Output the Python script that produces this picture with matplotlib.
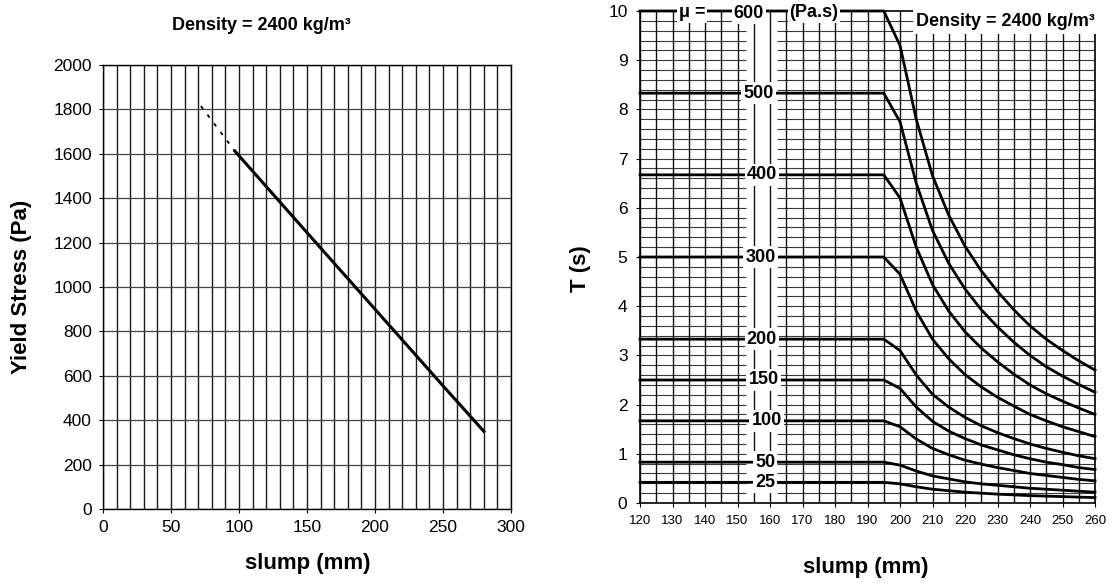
import numpy as np
import matplotlib
matplotlib.use('Agg')
import matplotlib.pyplot as plt

plt.rcParams['font.family'] = ['Liberation Sans', 'DejaVu Sans']

# left chart: yield stress vs slump
slump_dash = [72, 97]
stress_dash = [1815, 1612]
slump_line = [97, 150, 200, 250, 280]
stress_line = [1612, 1245, 900, 555, 350]

# right chart: T vs slump for each plastic viscosity (Pa.s)
slump_t = [120, 195, 200, 205, 210, 215, 220, 225, 230, 235, 240, 245, 250, 255, 260]
mu_values = [25, 50, 100, 150, 200, 300, 400, 500, 600]
t_25 = [0.42, 0.42, 0.39, 0.33, 0.28, 0.25, 0.22, 0.20, 0.18, 0.165, 0.15, 0.14, 0.13, 0.12, 0.11]
t_50 = [0.83, 0.83, 0.77, 0.65, 0.55, 0.49, 0.43, 0.39, 0.36, 0.33, 0.30, 0.28, 0.26, 0.24, 0.22]
t_100 = [1.67, 1.67, 1.55, 1.30, 1.11, 0.98, 0.87, 0.79, 0.72, 0.66, 0.60, 0.56, 0.52, 0.48, 0.45]
t_150 = [2.50, 2.50, 2.33, 1.95, 1.66, 1.46, 1.31, 1.18, 1.08, 0.98, 0.90, 0.83, 0.78, 0.72, 0.68]
t_200 = [3.33, 3.33, 3.10, 2.60, 2.21, 1.95, 1.74, 1.57, 1.43, 1.31, 1.20, 1.11, 1.03, 0.96, 0.90]
t_300 = [5.00, 5.00, 4.65, 3.90, 3.33, 2.93, 2.61, 2.36, 2.15, 1.97, 1.80, 1.67, 1.55, 1.45, 1.35]
t_400 = [6.67, 6.67, 6.20, 5.20, 4.44, 3.90, 3.48, 3.15, 2.87, 2.62, 2.40, 2.22, 2.07, 1.93, 1.80]
t_500 = [8.33, 8.33, 7.75, 6.50, 5.54, 4.87, 4.35, 3.93, 3.58, 3.27, 3.00, 2.77, 2.58, 2.41, 2.25]
t_600 = [10.0, 10.0, 9.30, 7.80, 6.65, 5.85, 5.22, 4.72, 4.30, 3.93, 3.60, 3.33, 3.10, 2.89, 2.70]
t_curves = [t_25, t_50, t_100, t_150, t_200, t_300, t_400, t_500, t_600]

fig = plt.figure(figsize=(11.12, 5.83), dpi=100)

# ---- left panel
ax1 = fig.add_axes([103 / 1112, 1 - 509 / 583, 408 / 1112, 444 / 583])
ax1.set_xlim(0, 300)
ax1.set_ylim(0, 2000)
ax1.set_xticks(range(0, 301, 50))
ax1.set_xticks(range(0, 301, 10), minor=True)
ax1.set_yticks(range(0, 2001, 200))
ax1.grid(which='both', axis='x', color='#1a1a1a', lw=1.0)
ax1.grid(which='major', axis='y', color='#444444', lw=0.9)
ax1.set_axisbelow(True)
ax1.tick_params(which='major', direction='out', length=3, width=0.8, labelsize=12.5, pad=5)
ax1.tick_params(which='minor', length=0)
for s in ax1.spines.values():
    s.set_linewidth(1.0)
ax1.plot(slump_dash, stress_dash, color='black', lw=1.3, ls=(0, (2, 4)))
ax1.plot(slump_line, stress_line, color='black', lw=2.2)
ax1.set_xlabel('slump (mm)', fontsize=16, fontweight='bold', va='center')
ax1.xaxis.set_label_coords(0.502, -0.122)
ax1.set_ylabel('Yield Stress (Pa)', fontsize=16, fontweight='bold', va='center')
ax1.yaxis.set_label_coords(-0.199, 0.5)
ax1.set_title('Density = 2400 kg/m³', fontsize=13, fontweight='bold', x=0.388, y=1.088, pad=0, va='center')

# ---- right panel
ax2 = fig.add_axes([640 / 1112, 1 - 503 / 583, 455 / 1112, 492 / 583])
ax2.set_xlim(120, 260)
ax2.set_ylim(0, 10)
ax2.set_xticks(range(120, 261, 10))
ax2.set_xticks(range(120, 261, 5), minor=True)
ax2.set_yticks(range(0, 11))
ax2.grid(which='both', axis='x', color='#111111', lw=1.0)
gap_lo, gap_hi = 152.5, 162
for yv in np.arange(0.2, 10, 0.2):
    ax2.hlines(yv, 120, gap_lo, color='#3a3a3a', lw=0.8, zorder=0.5)
    ax2.hlines(yv, gap_hi, 260, color='#3a3a3a', lw=0.8, zorder=0.5)
ax2.set_axisbelow(True)
ax2.tick_params(which='major', direction='out', length=3, width=0.8, pad=6)
ax2.tick_params(which='minor', length=0)
ax2.tick_params(axis='x', labelsize=9.5)
ax2.tick_params(axis='y', labelsize=12.5)
for s in ax2.spines.values():
    s.set_linewidth(1.2)

label_x = {25: 158.5, 50: 158.5, 100: 159, 150: 158, 200: 157.5,
           300: 157, 400: 157.5, 500: 156.5}
for mu, tv in zip(mu_values, t_curves):
    ax2.plot(slump_t, tv, color='black', lw=2.0, zorder=3, clip_on=False)
    if mu in label_x:
        ax2.text(label_x[mu], tv[0], str(mu), fontsize=13, fontweight='bold',
                 ha='center', va='center', zorder=4,
                 bbox=dict(boxstyle='square,pad=0.12', fc='white', ec='none'))

top_box = dict(boxstyle='square,pad=0.1', fc='white', ec='none')
ax2.text(136, 9.97, 'μ =', fontsize=13, fontweight='bold', ha='center', va='center',
         zorder=5, bbox=top_box, clip_on=False)
ax2.text(153.5, 9.95, '600', fontsize=13, fontweight='bold', ha='center', va='center',
         zorder=5, bbox=top_box, clip_on=False)
ax2.text(173.5, 9.97, '(Pa.s)', fontsize=13, fontweight='bold', ha='center', va='center',
         zorder=5, bbox=top_box, clip_on=False)
ax2.text(205, 9.78, 'Density = 2400 kg/m³', fontsize=13, fontweight='bold', ha='left',
         va='center', zorder=5, clip_on=False,
         bbox=dict(boxstyle='square,pad=0.2', fc='white', ec='none'))

ax2.set_xlabel('slump (mm)', fontsize=16, fontweight='bold', va='center')
ax2.xaxis.set_label_coords(0.497, -0.132)
ax2.set_ylabel('T (s)', fontsize=16, fontweight='bold', va='center')
ax2.yaxis.set_label_coords(-0.13, 0.476)

fig.savefig('out.png', dpi=100)
